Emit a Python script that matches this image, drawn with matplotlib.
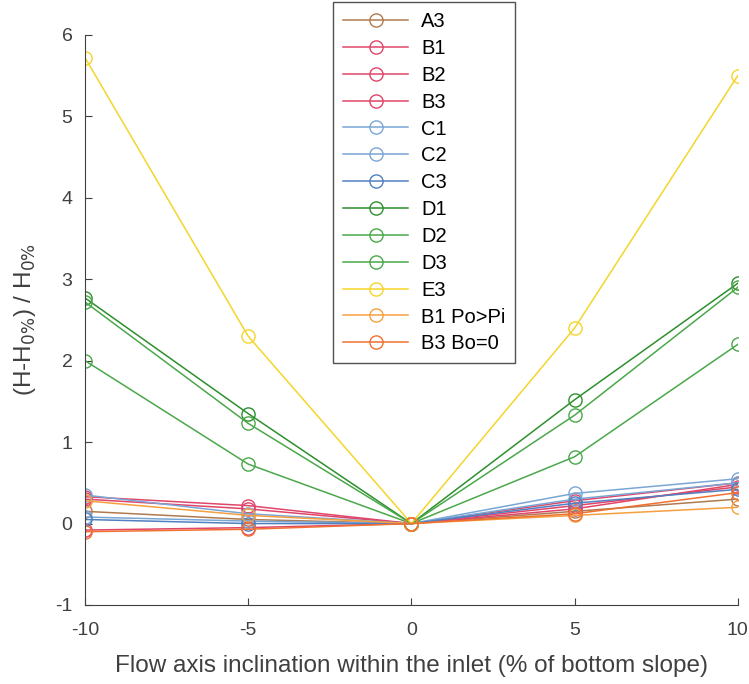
import numpy as np
import matplotlib.pyplot as plt

plt.rcParams['font.family'] = ['Liberation Sans', 'DejaVu Sans']
plt.rcParams['axes.unicode_minus'] = False

# inclination of the flow axis (% of bottom slope)
slope = [-10, -5, 0, 5, 10]

series_names = ['A3', 'B1', 'B2', 'B3', 'C1', 'C2', 'C3',
                'D1', 'D2', 'D3', 'E3', 'B1 Po>Pi', 'B3 Bo=0']

a3 = [0.15, 0.05, 0.0, 0.15, 0.30]
b1 = [0.33, 0.22, 0.0, 0.28, 0.50]
b2 = [0.30, 0.18, 0.0, 0.22, 0.45]
b3 = [-0.08, -0.05, 0.0, 0.18, 0.48]
c1 = [0.35, 0.12, 0.0, 0.37, 0.55]
c2 = [0.08, 0.03, 0.0, 0.30, 0.50]
c3 = [0.05, 0.00, 0.0, 0.25, 0.42]
d1 = [2.77, 1.35, 0.0, 1.52, 2.95]
d2 = [2.72, 1.23, 0.0, 1.33, 2.90]
d3 = [2.00, 0.73, 0.0, 0.82, 2.20]
e3 = [5.72, 2.30, 0.0, 2.40, 5.50]
b1_popi = [0.28, 0.10, 0.0, 0.10, 0.20]
b3_bo0 = [-0.10, -0.07, 0.0, 0.12, 0.38]

series_values = [a3, b1, b2, b3, c1, c2, c3, d1, d2, d3, e3, b1_popi, b3_bo0]

colors = ['#b07a4f', '#e0456a', '#e0456a', '#e0456a', '#7aa6d6', '#7aa6d6', '#4f80c0',
          '#2e8f2e', '#4aa84a', '#4aa84a', '#f5d52a', '#f5a040', '#f07030']

fig = plt.figure(figsize=(7.49, 6.84), dpi=100)
ax = fig.add_axes([0.1135, 0.1155, 0.8715, 0.8335])

for name, vals, col in zip(series_names, series_values, colors):
    ax.plot(slope, vals, '-o', color=col, label=name, linewidth=1.1,
            markersize=9.5, markerfacecolor='none', markeredgewidth=1.0)

ax.set_xlim(-10, 10)
ax.set_ylim(-1, 6)
ax.set_xticks([-10, -5, 0, 5, 10])
ax.set_yticks(range(-1, 7))
ax.tick_params(direction='in', labelsize=14, colors='#404040', length=5, pad=9)
ax.tick_params(axis='x', pad=12)
for s in ['top', 'right']:
    ax.spines[s].set_visible(False)
for s in ['left', 'bottom']:
    ax.spines[s].set_color('#404040')

ax.set_xlabel('Flow axis inclination within the inlet (% of bottom slope)', fontsize=17.5,
              color='#404040', labelpad=12)
ax.set_ylabel(r'(H-H$_{0\%}$) / H$_{0\%}$', fontsize=17.5, color='#404040', labelpad=12)

leg = fig.legend(loc='upper left', bbox_to_anchor=(0.445, 0.997), fontsize=14.5,
                 frameon=True, fancybox=False, edgecolor='#262626', borderaxespad=0,
                 handlelength=3.2, labelspacing=0.39, borderpad=0.5, handletextpad=0.65)
leg.get_frame().set_linewidth(1.0)

fig.savefig('out.png', dpi=100)
